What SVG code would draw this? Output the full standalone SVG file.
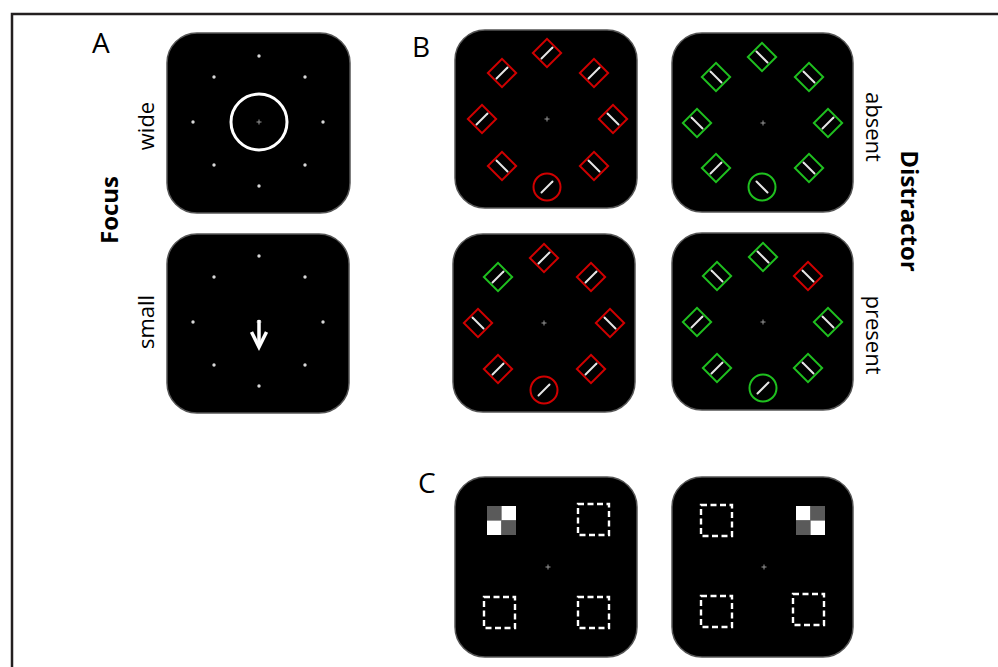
<svg xmlns="http://www.w3.org/2000/svg" xmlns:xlink="http://www.w3.org/1999/xlink" width="998" height="667" viewBox="0 0 998 667">
<style>
.panel{fill:#000;stroke:#555;stroke-width:1.5}
.dot{fill:#d8d8d8}
.fix{stroke:#999;stroke-width:1}
.red{fill:none;stroke:#d00000;stroke-width:2}
.grn{fill:none;stroke:#1fc01f;stroke-width:2}
.ln{stroke:#e6e6e6;stroke-width:2;stroke-linecap:round}
.dash{fill:none;stroke:#fff;stroke-width:2.4;stroke-dasharray:6,3.5}
.lbl{font-family:"Open Sans","DejaVu Sans",sans-serif;fill:#000}
</style>
<defs>
<rect id="dia" x="-10" y="-10" width="20" height="20" transform="rotate(45)"/>
<circle id="cir" r="13.5"/>
<line id="ls" class="ln" x1="-5.5" y1="5.5" x2="5.5" y2="-5.5"/>
<line id="lb" class="ln" x1="-5.5" y1="-5.5" x2="5.5" y2="5.5"/>
<g id="fx"><line class="fix" x1="-2.5" y1="0" x2="2.5" y2="0"/><line class="fix" x1="0" y1="-2.5" x2="0" y2="2.5"/></g>
<g id="dots">
<circle class="dot" cx="0" cy="-66" r="1.7"/><circle class="dot" cx="0" cy="64" r="1.7"/>
<circle class="dot" cx="-66" cy="0" r="1.7"/><circle class="dot" cx="64" cy="0" r="1.7"/>
<circle class="dot" cx="-45" cy="-45" r="1.7"/><circle class="dot" cx="46" cy="-45" r="1.7"/>
<circle class="dot" cx="-45" cy="43" r="1.7"/><circle class="dot" cx="46" cy="43" r="1.7"/>
</g>
<g id="chk1"><rect x="0" y="0" width="14.5" height="14.5" fill="#5a5a5a"/><rect x="14.5" y="0" width="14.5" height="14.5" fill="#fff"/><rect x="0" y="14.5" width="14.5" height="14.5" fill="#fff"/><rect x="14.5" y="14.5" width="14.5" height="14.5" fill="#5a5a5a"/></g>
<g id="chk2"><rect x="0" y="0" width="14.5" height="14.5" fill="#fff"/><rect x="14.5" y="0" width="14.5" height="14.5" fill="#5a5a5a"/><rect x="0" y="14.5" width="14.5" height="14.5" fill="#5a5a5a"/><rect x="14.5" y="14.5" width="14.5" height="14.5" fill="#fff"/></g>
</defs>
<rect width="998" height="667" fill="#fff"/>
<g id="frame"><path d="M12,667 V14 H998" fill="none" stroke="#231f20" stroke-width="2.5"/></g>

<g id="labels" class="lbl">
<text x="92" y="53" font-size="28">A</text>
<text x="412" y="57" font-size="28">B</text>
<text x="418" y="493" font-size="28">C</text>
<text transform="translate(154,126) rotate(-90)" text-anchor="middle" font-size="22">wide</text>
<text transform="translate(154,322) rotate(-90)" text-anchor="middle" font-size="22">small</text>
<text transform="translate(118,210) rotate(-90)" text-anchor="middle" font-size="24" font-weight="bold">Focus</text>
<text transform="translate(866,127) rotate(90)" text-anchor="middle" font-size="22">absent</text>
<text transform="translate(866,335) rotate(90)" text-anchor="middle" font-size="22">present</text>
<text transform="translate(901,211) rotate(90)" text-anchor="middle" font-size="24" font-weight="bold">Distractor</text>
</g>

<g id="panelA1">
<rect class="panel" x="167" y="33" width="183" height="180" rx="30"/>
<use href="#dots" x="259" y="122"/>
<circle cx="259" cy="122" r="28" fill="none" stroke="#fff" stroke-width="3"/>
<use href="#fx" x="259" y="122"/>
</g>

<g id="panelA2">
<rect class="panel" x="167" y="234" width="182" height="179" rx="30"/>
<use href="#dots" x="259" y="322"/>
<use href="#fx" x="259" y="322"/>
<line x1="259" y1="320" x2="259" y2="345" stroke="#fff" stroke-width="3.5"/>
<polyline points="251.5,332 259,347 266.5,332" fill="none" stroke="#fff" stroke-width="3.5" stroke-linejoin="miter"/>
</g>

<g id="panelB1">
<rect class="panel" x="455" y="30" width="182" height="178" rx="30"/>
<use href="#fx" x="547" y="119"/>
<g class="red">
<use href="#dia" x="547" y="53"/><use href="#dia" x="502" y="73"/><use href="#dia" x="594" y="73"/>
<use href="#dia" x="482" y="119"/><use href="#dia" x="613" y="119"/>
<use href="#dia" x="502" y="166"/><use href="#dia" x="594" y="166"/>
<use href="#cir" x="547" y="187"/>
</g>
<use href="#ls" x="547" y="53"/><use href="#ls" x="502" y="73"/><use href="#ls" x="594" y="73"/>
<use href="#ls" x="482" y="119"/><use href="#lb" x="613" y="119"/>
<use href="#lb" x="502" y="166"/><use href="#lb" x="594" y="166"/>
<use href="#ls" x="547" y="187"/>
</g>

<g id="panelB2">
<rect class="panel" x="672" y="33" width="181" height="179" rx="30"/>
<use href="#fx" x="763" y="123"/>
<g class="grn">
<use href="#dia" x="762" y="57"/><use href="#dia" x="716" y="77"/><use href="#dia" x="809" y="77"/>
<use href="#dia" x="697" y="123"/><use href="#dia" x="828" y="123"/>
<use href="#dia" x="716" y="168"/><use href="#dia" x="809" y="168"/>
<use href="#cir" x="762" y="187"/>
</g>
<use href="#lb" x="762" y="57"/><use href="#lb" x="716" y="77"/><use href="#lb" x="809" y="77"/>
<use href="#lb" x="697" y="123"/><use href="#ls" x="828" y="123"/>
<use href="#ls" x="716" y="168"/><use href="#lb" x="809" y="168"/>
<use href="#lb" x="762" y="187"/>
</g>

<g id="panelB3">
<rect class="panel" x="453" y="234" width="182" height="178" rx="30"/>
<use href="#fx" x="544" y="323"/>
<g class="red">
<use href="#dia" x="544" y="258"/><use href="#dia" x="591" y="277"/>
<use href="#dia" x="478" y="323"/><use href="#dia" x="610" y="323"/>
<use href="#dia" x="498" y="369"/><use href="#dia" x="591" y="369"/>
<use href="#cir" x="544" y="390"/>
</g>
<g class="grn"><use href="#dia" x="498" y="277"/></g>
<use href="#ls" x="544" y="258"/><use href="#ls" x="498" y="277"/><use href="#ls" x="591" y="277"/>
<use href="#lb" x="478" y="323"/><use href="#lb" x="610" y="323"/>
<use href="#ls" x="498" y="369"/><use href="#ls" x="591" y="369"/>
<use href="#ls" x="544" y="390"/>
</g>

<g id="panelB4">
<rect class="panel" x="672" y="233" width="181" height="177" rx="30"/>
<use href="#fx" x="763" y="322"/>
<g class="grn">
<use href="#dia" x="763" y="257"/><use href="#dia" x="717" y="276"/>
<use href="#dia" x="697" y="322"/><use href="#dia" x="828" y="322"/>
<use href="#dia" x="717" y="368"/><use href="#dia" x="808" y="368"/>
<use href="#cir" x="763" y="388"/>
</g>
<g class="red"><use href="#dia" x="808" y="276"/></g>
<use href="#lb" x="763" y="257"/><use href="#lb" x="717" y="276"/><use href="#lb" x="808" y="276"/>
<use href="#ls" x="697" y="322"/><use href="#lb" x="828" y="322"/>
<use href="#ls" x="717" y="368"/><use href="#lb" x="808" y="368"/>
<use href="#ls" x="763" y="388"/>
</g>

<g id="panelC1">
<rect class="panel" x="455" y="477" width="182" height="180" rx="30"/>
<use href="#fx" x="548" y="567"/>
<use href="#chk1" x="487" y="506"/>
<rect class="dash" x="578" y="504" width="31" height="31"/>
<rect class="dash" x="484" y="597" width="31" height="31"/>
<rect class="dash" x="578" y="597" width="31" height="31"/>
</g>

<g id="panelC2">
<rect class="panel" x="672" y="477" width="181" height="180" rx="30"/>
<use href="#fx" x="764" y="567"/>
<use href="#chk2" x="796" y="506"/>
<rect class="dash" x="701" y="505" width="31" height="31"/>
<rect class="dash" x="701" y="596" width="31" height="31"/>
<rect class="dash" x="793" y="594" width="31" height="31"/>
</g>
</svg>
